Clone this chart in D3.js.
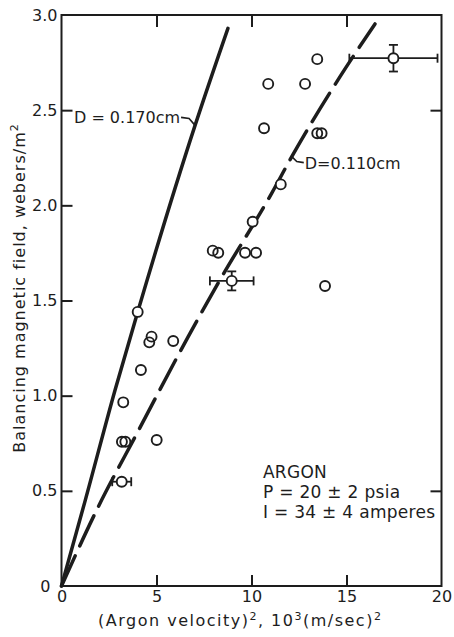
<!DOCTYPE html>
<html>
<head>
<meta charset="utf-8">
<script src="https://cdn.jsdelivr.net/npm/d3@7"></script>
<style>
  body { margin: 0; background: #fff; }
  svg text { font-family: "DejaVu Sans", sans-serif; fill: #1d1d1d; }
</style>
</head>
<body>
<div id="canvas"></div>
<script>
(function(d3){

  // measured points: (argon velocity)^2 in 10^3 (m/s)^2, field in Wb/m^2
  var velSq = [17.47, 13.46, 10.88, 12.82, 10.66, 13.46, 13.69, 11.54, 10.06, 7.96, 8.25,
               9.66, 10.24, 8.96, 13.87, 4.01, 4.74, 4.62, 5.88, 4.18, 3.25, 3.18, 3.36, 5.01, 3.17],
      field = [2.773, 2.768, 2.638, 2.638, 2.405, 2.379, 2.379, 2.11, 1.914, 1.762, 1.751,
               1.751, 1.751, 1.603, 1.576, 1.44, 1.31, 1.28, 1.287, 1.135, 0.965, 0.758, 0.758, 0.767, 0.548];

  // points carrying error bars
  var errVel = [17.47, 8.96, 3.17],
      errField = [2.773, 1.603, 0.548],
      errVelHalf = [2.32, 1.15, 0.5],
      errFieldHalf = [0.07, 0.05, 0];

  // hand drawn curves, read along the strokes
  var d170Vel = [0, 1.25, 2.82, 4.01, 7.03, 8.76],
      d170Field = [0, 0.45, 1.03, 1.44, 2.42, 2.93],
      d110Vel = [0, 1.94, 3.96, 6.67, 8.34, 11.06, 12.12, 14.66, 16.5],
      d110Field = [0, 0.417, 0.80, 1.31, 1.608, 2.063, 2.256, 2.676, 2.953];

  var xTicks = [0, 5, 10, 15, 20],
      xTickLabels = ['0', '5', '10', '15', '20'],
      yTicks = [0, 0.5, 1, 1.5, 2, 2.5, 3],
      yTickLabels = ['0', '0.5', '1.0', '1.5', '2.0', '2.5', '3.0'],
      topTicks = [5, 10, 15],
      rightTicks = [0.5, 2.5];

  var margin = {top: 15, right: 12.5, bottom: 51, left: 61.5},
      canvas_d = {width: 454, height: 637},
      chart_d = {
        width: canvas_d.width - margin.left - margin.right,
        height: canvas_d.height - margin.top - margin.bottom
      },
      ink = '#1d1d1d';

  var x = d3.scaleLinear().domain([0, 20]).range([0, chart_d.width]),
      y = d3.scaleLinear().domain([0, 3]).range([chart_d.height, 0]);

  var canvas = d3.select('#canvas').append('svg')
      .attr('width', canvas_d.width)
      .attr('height', canvas_d.height);

  var chart = canvas.append('g')
      .attr('transform', 'translate(' + margin.left + ',' + margin.top + ')');

  function styleAxis(g) {
    g.select('.domain').remove();
    g.selectAll('.tick line').attr('stroke', ink).attr('stroke-width', 2);
    g.selectAll('.tick text').attr('font-size', 16).attr('font-family', null);
  }

  /**
   * Axes, ticks pointing inward.
   */
  chart.append('g')
      .call(d3.axisLeft(y).tickValues(yTicks)
        .tickFormat(function(d, i){ return yTickLabels[i]; })
        .tickSizeInner(-11).tickSizeOuter(0).tickPadding(4))
      .call(styleAxis)
      .call(function(g){
        g.selectAll('.tick').filter(function(d){ return d === 0 || d === 3; }).select('line').remove();
        g.selectAll('.tick').filter(function(d){ return d === 0; }).select('text').attr('x', -11);
      });

  chart.append('g')
      .attr('transform', 'translate(0,' + chart_d.height + ')')
      .call(d3.axisBottom(x).tickValues(xTicks)
        .tickFormat(function(d, i){ return xTickLabels[i]; })
        .tickSizeInner(-11).tickSizeOuter(0).tickPadding(5))
      .call(styleAxis)
      .call(function(g){
        g.selectAll('.tick').filter(function(d){ return d === 0 || d === 20; }).select('line').remove();
      });

  chart.append('g')
      .call(d3.axisTop(x).tickValues(topTicks).tickFormat('').tickSizeInner(-12).tickSizeOuter(0))
      .call(styleAxis);

  chart.append('g')
      .attr('transform', 'translate(' + chart_d.width + ',0)')
      .call(d3.axisRight(y).tickValues(rightTicks).tickFormat('').tickSizeInner(-11).tickSizeOuter(0))
      .call(styleAxis);

  chart.append('rect')
      .attr('width', chart_d.width)
      .attr('height', chart_d.height)
      .attr('fill', 'none')
      .attr('stroke', ink)
      .attr('stroke-width', 2);

  /**
   * The two diameter curves.
   */
  var line = d3.line()
      .x(function(d){ return x(d[0]); })
      .y(function(d){ return y(d[1]); })
      .curve(d3.curveMonotoneX);

  chart.append('path')
      .attr('d', line(d3.zip(d170Vel, d170Field)))
      .attr('fill', 'none')
      .attr('stroke', ink)
      .attr('stroke-width', 3.5)
      .attr('stroke-linecap', 'round');

  chart.append('path')
      .attr('d', line(d3.zip(d110Vel, d110Field)))
      .attr('fill', 'none')
      .attr('stroke', ink)
      .attr('stroke-width', 3.5)
      .attr('stroke-linecap', 'round')
      .attr('stroke-dasharray', '33,11');

  /**
   * Error bars, then circles (fill first so overlapping rings stay visible).
   */
  var errs = d3.range(errVel.length),
      cap = 4.5;
  var eb = chart.append('g').attr('stroke', ink).attr('stroke-width', 1.8);
  errs.forEach(function(i){
    var cx = x(errVel[i]), cy = y(errField[i]),
        x0 = x(errVel[i] - errVelHalf[i]), x1 = x(errVel[i] + errVelHalf[i]);
    eb.append('line').attr('x1', x0).attr('x2', x1).attr('y1', cy).attr('y2', cy);
    eb.append('line').attr('x1', x0).attr('x2', x0).attr('y1', cy - cap).attr('y2', cy + cap);
    eb.append('line').attr('x1', x1).attr('x2', x1).attr('y1', cy - cap).attr('y2', cy + cap);
    if (errFieldHalf[i] > 0) {
      var y0 = y(errField[i] - errFieldHalf[i]), y1 = y(errField[i] + errFieldHalf[i]);
      eb.append('line').attr('x1', cx).attr('x2', cx).attr('y1', y0).attr('y2', y1);
      eb.append('line').attr('x1', cx - cap).attr('x2', cx + cap).attr('y1', y0).attr('y2', y0);
      eb.append('line').attr('x1', cx - cap).attr('x2', cx + cap).attr('y1', y1).attr('y2', y1);
    }
  });

  var pts = d3.zip(velSq, field);
  chart.append('g').selectAll('circle')
      .data(pts)
    .enter().append('circle')
      .attr('cx', function(d){ return x(d[0]); })
      .attr('cy', function(d){ return y(d[1]); })
      .attr('r', 5)
      .attr('fill', '#fff');
  chart.append('g').selectAll('circle')
      .data(pts)
    .enter().append('circle')
      .attr('cx', function(d){ return x(d[0]); })
      .attr('cy', function(d){ return y(d[1]); })
      .attr('r', 5)
      .attr('fill', 'none')
      .attr('stroke', ink)
      .attr('stroke-width', 1.9);

  /**
   * Curve labels with leaders.
   */
  var lead = chart.append('g').attr('fill', 'none').attr('stroke', ink).attr('stroke-width', 1.6);
  var a = [x(7.03), y(2.42)];
  lead.append('path').attr('d', 'M' + (a[0] - 14) + ',' + (a[1] - 8) + 'L' + (a[0] - 6) + ',' + (a[1] - 7) + 'L' + a[0] + ',' + a[1]);
  chart.append('text')
      .attr('x', a[0] - 15).attr('y', a[1] - 2)
      .attr('text-anchor', 'end')
      .attr('font-size', 16)
      .text('D = 0.170cm');

  var b = [x(12.12), y(2.256)];
  lead.append('path').attr('d', 'M' + b[0] + ',' + b[1] + 'L' + (b[0] + 5) + ',' + (b[1] + 5) + 'L' + (b[0] + 12) + ',' + (b[1] + 6));
  chart.append('text')
      .attr('x', b[0] + 13).attr('y', b[1] + 12)
      .attr('font-size', 16)
      .text('D=0.110cm');

  /**
   * Conditions note.
   */
  var note = chart.append('g')
      .attr('transform', 'translate(' + (x(10.6)) + ',' + (y(0.57)) + ')')
      .attr('font-size', 17);
  ['ARGON', 'P = 20 \u00b1 2 psia', 'I = 34 \u00b1 4 amperes'].forEach(function(t, i){
    note.append('text').attr('y', i * 20).attr('letter-spacing', 0.3).text(t);
  });

  /**
   * Axis titles.
   */
  var xt = canvas.append('text')
      .attr('x', 98).attr('y', 626)
      .attr('font-size', 16)
      .attr('letter-spacing', 1.5);
  xt.append('tspan').text('(Argon velocity)');
  xt.append('tspan').attr('dy', -6).attr('font-size', 11).text('2');
  xt.append('tspan').attr('dy', 6).text(', 10');
  xt.append('tspan').attr('dy', -6).attr('font-size', 11).text('3');
  xt.append('tspan').attr('dy', 6).text('(m/sec)');
  xt.append('tspan').attr('dy', -6).attr('font-size', 11).text('2');

  var yt = canvas.append('text')
      .attr('transform', 'translate(25,' + 288 + ') rotate(-90)')
      .attr('text-anchor', 'middle')
      .attr('font-size', 16)
      .attr('letter-spacing', 1);
  yt.append('tspan').text('Balancing magnetic field, webers/m');
  yt.append('tspan').attr('dy', -7).attr('font-size', 11).text('2');

})(d3);
</script>
</body>
</html>
